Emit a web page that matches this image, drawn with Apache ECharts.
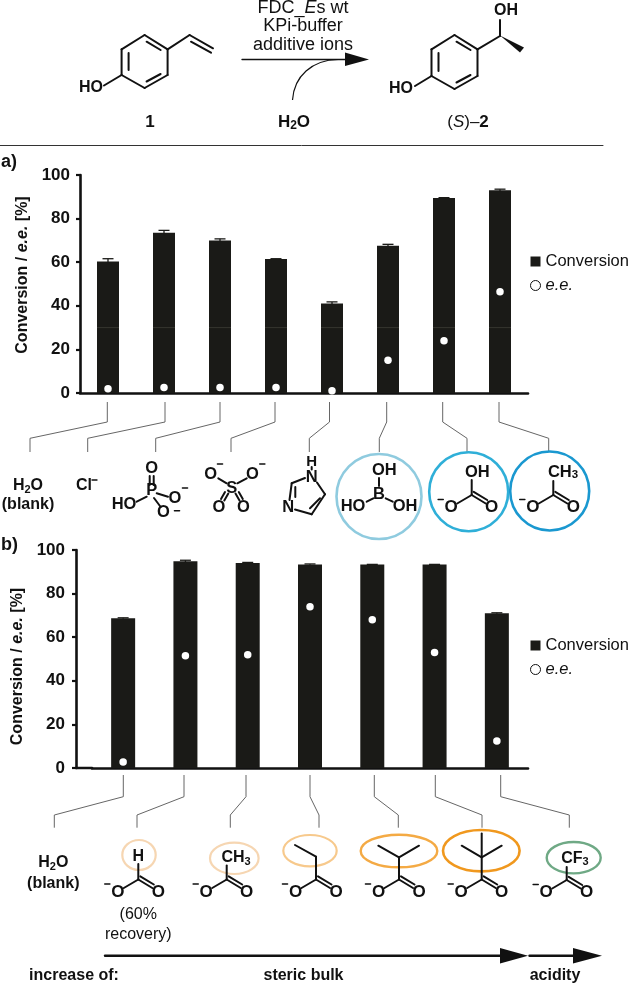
<!DOCTYPE html>
<html>
<head>
<meta charset="utf-8">
<style>html,body{margin:0;padding:0;background:#fff}#c{width:630px;height:985px}</style>
<script src="https://cdn.jsdelivr.net/npm/echarts@6/dist/echarts.min.js"></script>
</head>
<body>
<div id="c"></div>
<script>
// ---------- data ----------
const categoriesA = ['H2O (blank)', 'Cl-', 'H2PO4-', 'SO4 2-', 'imidazole', 'B(OH)3', 'HCO3-', 'CH3COO-'];
const conversionA = [60.3, 73.5, 70, 61.5, 41, 67.5, 89.5, 93];
const errorA = [1.3, 1.1, 0.7, 0.1, 0.8, 0.7, 0.1, 0.5];
const eeA = [2, 2.5, 2.5, 2.5, 1, 15, 24, 46.5];
const seamA = [30, 30, 30, 30, 30, 30, 30, 30];

const categoriesB = ['H2O (blank)', 'HCOO-', 'CH3COO-', 'CH3CH2COO-', 'iPrCOO-', 'tBuCOO-', 'CF3COO-'];
const conversionB = [68.7, 94.8, 94, 93.4, 93.4, 93.4, 71];
const errorB = [0.2, 0.5, 0.3, 0.2, 0, 0, 0.2];
const eeB = [2.8, 51.5, 52, 74, 68, 53, 12.4];

const yTicks = [0, 20, 40, 60, 80, 100];

// ---------- styles ----------
const FF = '"Liberation Sans", Arial, sans-serif';
const BLACK = '#111';
const BAR = '#1a1a17';
const LEAD = '#666';
const CHEM = 16.5;

const g = [];
function ln(x1, y1, x2, y2, w, c) {
  g.push({type:'line', silent:true, z:5, shape:{x1,y1,x2,y2}, style:{stroke:c||BLACK, lineWidth:w||2, lineCap:'round'}});
}
function poly(pts, c) {
  g.push({type:'polygon', silent:true, z:5, shape:{points:pts}, style:{fill:c||BLACK}});
}
function tx(s, x, y, size, weight, opt) {
  opt = opt || {};
  g.push({type:'text', silent:true, z:6, style:Object.assign({
    text:s, x, y, align:opt.align||'center', verticalAlign:'middle',
    font:(opt.italic?'italic ':'')+(weight||'bold')+' '+(size||16)+'px '+FF, fill:opt.fill||BLACK
  }, opt.rich?{rich:opt.rich}:{})});
}
function rich(size, weight) {
  const b = {fontFamily:FF, fontSize:size, fontWeight:weight||'bold', fill:BLACK, lineHeight:size+2, verticalAlign:'middle'};
  return {
    a:Object.assign({}, b),
    i:Object.assign({}, b, {fontStyle:'italic'}),
    n:Object.assign({}, b, {fontWeight:'normal'}),
    ni:Object.assign({}, b, {fontWeight:'normal', fontStyle:'italic'}),
    s:Object.assign({}, b, {fontSize:size-5, verticalAlign:'bottom', lineHeight:size+2})
  };
}
function rt(s, x, y, size, weight) {
  tx(s, x, y, size, weight, {rich:rich(size||16, weight)});
}
function ell(cx, cy, rx, ry, c, w) {
  g.push({type:'ellipse', silent:true, z:4, shape:{cx,cy,rx,ry}, style:{fill:'none', stroke:c, lineWidth:w||2}});
}
function leader(x0, x1, y0, y1, y2, y3) {
  g.push({type:'polyline', silent:true, z:3, shape:{points:[[x0,y0],[x0,y1],[x1,y2],[x1,y3]]},
    style:{stroke:LEAD, lineWidth:1, fill:'none'}});
}
function minus(x, y) { ln(x-2.6, y, x+2.6, y, 1.4); }
function carboxylate(vx, vy) {
  ln(vx, vy, vx-14.5, vy+8.5);
  ln(vx, vy, vx+14, vy+8.5);
  ln(vx+2, vy-3.2, vx+15.5, vy+5);
  tx('O', vx-20.5, vy+12.7, 17);
  tx('O', vx+20, vy+12.7, 17);
  minus(vx-31, vy+4.5);
}

// ---------- reaction scheme ----------
function ring(ox, oy, h) { // para-substituted benzene
  const p = [[ox,oy],[ox+23,oy+14.3],[ox+23,oy+40+h],[ox,oy+53+h],[ox-23,oy+40+h],[ox-23,oy+14.3]];
  for (let i=0;i<6;i++) ln(p[i][0],p[i][1],p[(i+1)%6][0],p[(i+1)%6][1]);
  ln(ox-16,oy+18,ox-16,oy+35+h);
  ln(ox+2,oy+6.7,ox+16,oy+15);
  ln(ox+2,oy+46.5+h,ox+16,oy+39+h);
}
ring(144.6, 35, 0);
ln(167.6,49.3,189.6,35); ln(189.6,35,213,48.3); ln(191,41.7,211,52.7);
ln(121.6,75,104,85.5);
tx('HO', 91, 88, 16);
tx('1', 150, 122, 17);

ring(454.5, 35, 1);
ln(477.5,49.3,500,36); ln(500,36,500,20);
poly([[500,35.5],[524,47.5],[520,52.5]]);
tx('OH', 506, 11, 16);
ln(431.5,76,415,86);
tx('HO', 401, 89, 16);
rt('{n|(}{ni|S}{n|)–}{a|2}', 468, 122, 17);

ln(242,59.5,346,59.5,1.4);
poly([[345,52.5],[369,59.5],[345,66]]);
g.push({type:'bezierCurve', silent:true, z:5, shape:{x1:292.5,y1:100,cpx1:294,cpy1:76,cpx2:312,cpy2:60,x2:338,y2:59.5},
  style:{stroke:BLACK, lineWidth:1.2, fill:'none'}});
rt('{a|FDC_}{i|E}{a|s wt}', 303, 8, 18, 'normal');
tx('KPi-buffer', 303, 26.5, 18, 'normal');
tx('additive ions', 303, 45, 18, 'normal');
rt('{a|H}{s|2}{a|O}', 294, 122, 17);
ln(0,145.5,603,145.5,1,'#333');

tx('a)', 9, 162, 18, 'bold');
tx('b)', 9.5, 545, 18, 'bold');

// ---------- leaders ----------
[[107.3,30],[165,87.7],[220,155.7],[275,231],[329.5,309.3],[386.7,379.3],[442.7,467],[499,548.7]]
  .forEach(p => leader(p[0], p[1], 402, 422, 438.3, 452));
[[123.3,54.3],[184,137],[246,230.3],[310,319],[374.3,398.3],[435.3,482],[500.7,569.3]]
  .forEach(p => leader(p[0], p[1], 775, 796.7, 815, 827.7));

// ---------- panel a structures ----------
rt('{a|H}{s|2}{a|O}', 28, 486, 16);
tx('(blank)', 28, 505, 16);
tx('Cl', 84, 486, 16); ln(92,480,97,480,1.3);

// phosphate
tx('O', 151.7, 468, CHEM); ln(149.7,476,149.7,485); ln(153.7,476,153.7,485);
tx('P', 151.7, 490, CHEM);
tx('HO', 124, 504, CHEM); ln(136.7,501.7,146.7,496.7);
ln(156.7,493.3,168,496.7); tx('O', 175, 498, CHEM); minus(185,488);
ln(154,498,160.7,507); tx('O', 163.3, 512, CHEM); minus(177,510.7);

// sulfate
tx('S', 231.7, 488, CHEM);
tx('O', 210.7, 474, CHEM); minus(220,464); ln(218.3,478.3,226.7,483.3);
tx('O', 252.3, 474, CHEM); minus(262.3,464); ln(246.7,478.3,237.3,483.3);
tx('O', 219, 507, CHEM); ln(228.3,493.5,224.3,500.5); ln(225,492,221,499);
tx('O', 243.3, 507, CHEM); ln(235.5,493.5,239.5,500.5); ln(238.8,492,242.8,499);

// imidazole
tx('H', 311.7, 461.7, 15); ln(311.7,467,311.7,469.5);
tx('N', 311.7, 477, CHEM);
ln(291.7,483.3,305,478); ln(317,482.5,325,494.3); ln(325,494.3,311.7,514.3);
ln(320,498.3,310,508.3); ln(311.7,514.3,295,509.5);
ln(291.7,483.3,289.5,500); ln(295.3,487,295.3,497);
tx('N', 288.3, 507.7, CHEM);

// boric acid
ell(379, 496.5, 42.5, 42.5, '#8fcbdf', 2.6);
tx('OH', 384.3, 470.5, CHEM); ln(379,478,379,486);
tx('B', 379, 494.5, CHEM);
tx('HO', 353, 506, CHEM); ln(366.7,501.7,373.3,498.3);
tx('OH', 405, 506, CHEM); ln(385.7,498.3,392.7,501.7);

// hydrogen carbonate
ell(468.7, 491.7, 39.5, 39.5, '#2fafd8', 2.6);
tx('OH', 477.3, 472.3, CHEM); ln(471.7,480,471.7,495);
carboxylate(471.7, 495);

// acetate
ell(549.7, 491, 39.5, 39.5, '#1a98d0', 2.6);
rt('{a|CH}{s|3}', 563, 472, CHEM); ln(553.3,481,553.3,495);
carboxylate(553.3, 495);

// ---------- panel b structures ----------
rt('{a|H}{s|2}{a|O}', 53.3, 863, 16);
tx('(blank)', 53.3, 884, 16);

ell(139, 855, 16.7, 15, '#f6d6b2', 2.2);
tx('H', 138.3, 857, 16); ln(138.3,864,138.3,879.5);
carboxylate(138.3, 879.5);
tx('(60%', 138.3, 915, 16, 'normal');
tx('recovery)', 138.3, 935, 16, 'normal');

ell(234.3, 858.3, 24.3, 15.7, '#f6d6b2', 2.2);
rt('{a|CH}{s|3}', 236, 858, 16); ln(226.7,865.5,226.7,879.5);
carboxylate(226.7, 879.5);

ell(310, 850.7, 26.7, 15.7, '#f7c98c', 2.2);
ln(295,845,316,856.7); ln(316,856.7,316,879.5);
carboxylate(316, 879.5);

ell(399, 851, 38.3, 16.3, '#f4aa44', 2.4);
ln(378.3,845.7,399,857.3); ln(419,845.7,399,857.3); ln(399,857.3,399,879.5);
carboxylate(399, 879.5);

ell(481.3, 850.7, 38.3, 20.7, '#f0981e', 2.6);
ln(461.7,845.7,481.7,857.3); ln(501.7,845.7,481.7,857.3); ln(481.7,833.5,481.7,879.5);
carboxylate(481.7, 879.5);

ell(573.7, 857.7, 27, 15.7, '#6fa985', 2.4);
rt('{a|CF}{s|3}', 575, 858.5, 16); ln(566.7,867,566.7,880);
carboxylate(566.7, 880);

// ---------- trend arrows ----------
ln(105,955.7,501,955.7,2.4);
poly([[500,948],[528,955.7],[500,963.5]]);
ln(529.5,955.7,574,955.7,2.4);
poly([[573,948],[602,955.7],[573,963.5]]);
tx('increase of:', 74, 976, 16);
tx('steric bulk', 303.5, 976, 16);
tx('acidity', 555, 976, 16);

// x-axis line of panel b runs left up to its y axis, beyond the first band
ln(76,768,92,768,2.6,BLACK);

// ---------- chart ----------
const nameRich = {
  b:{fontFamily:FF, fontSize:16, fontWeight:'bold', color:BLACK},
  i:{fontFamily:FF, fontSize:16, fontWeight:'bold', fontStyle:'italic', color:BLACK}
};
function yAxis(grid, offset, gap, pad, margin) {
  return {
    type:'value', gridIndex:grid, min:yTicks[0], max:yTicks[yTicks.length-1], interval:yTicks[1]-yTicks[0],
    offset, splitLine:{show:false},
    axisLine:{show:true, lineStyle:{color:BLACK, width:2.6}},
    axisTick:{show:true, length:4, lineStyle:{color:BLACK, width:2.2}},
    axisLabel:{fontFamily:FF, fontSize:17, fontWeight:'bold', color:BLACK, margin},
    name:'{b|Conversion / }{i|e.e.}{b| [%]}', nameLocation:'middle', nameRotate:90, nameGap:gap,
    nameTextStyle:{rich:nameRich, padding:pad}
  };
}
function xAxis(grid, cats) {
  return {
    type:'category', gridIndex:grid, data:cats,
    axisLine:{show:true, lineStyle:{color:BLACK, width:2.6}},
    axisTick:{show:false}, axisLabel:{show:false}, splitLine:{show:false}
  };
}
function errorSeries(ax, means, errs) {
  return {
    type:'custom', xAxisIndex:ax, yAxisIndex:ax, z:3, silent:true,
    data:means.map((m,i)=>[i,m,errs[i]]), encode:{x:0,y:1},
    renderItem(params, api){
      const i=api.value(0), m=api.value(1), e=api.value(2);
      const top=api.coord([i,m+e]), bot=api.coord([i,m-e]);
      const hw=5.5;
      const st={stroke:BAR, lineWidth:1.3};
      return {type:'group', children:[
        {type:'line', shape:{x1:top[0],y1:top[1],x2:bot[0],y2:bot[1]}, style:st},
        {type:'line', shape:{x1:top[0]-hw,y1:top[1],x2:top[0]+hw,y2:top[1]}, style:st}
      ]};
    }
  };
}
function seamSeries(ax, vals, w) {
  return {
    type:'custom', xAxisIndex:ax, yAxisIndex:ax, z:3, silent:true,
    data:vals.map((v,i)=>[i,v]), encode:{x:0,y:1},
    renderItem(params, api){
      const p=api.coord([api.value(0),api.value(1)]);
      return {type:'line', shape:{x1:p[0]-w/2,y1:p[1],x2:p[0]+w/2,y2:p[1]}, style:{stroke:'#35352f', lineWidth:1}};
    }
  };
}
function barSeries(ax, vals, w) {
  return {name:'Conversion', type:'bar', xAxisIndex:ax, yAxisIndex:ax, data:vals, barWidth:w, z:2,
    itemStyle:{color:BAR}};
}
function dotSeries(ax, vals) {
  return {name:'e.e.', type:'scatter', xAxisIndex:ax, yAxisIndex:ax, data:vals, symbol:'circle', symbolSize:7.5, z:4,
    itemStyle:{color:'#fff', opacity:1}};
}
function legend(top) {
  return {
    orient:'vertical', left:525, top, itemWidth:10, itemHeight:10, itemGap:7, selectedMode:false,
    data:[
      {name:'Conversion', icon:'rect', itemStyle:{color:BAR}},
      {name:'e.e.', icon:'circle', itemStyle:{color:'#fff', borderColor:BLACK, borderWidth:1}}
    ],
    formatter:n=>n==='e.e.'?'{i|e.e.}':'{r|'+n+'}',
    textStyle:{rich:{
      r:{fontFamily:FF, fontSize:16.5, color:BLACK},
      i:{fontFamily:FF, fontSize:16.5, fontStyle:'italic', color:BLACK}
    }}
  };
}

const chart = echarts.init(document.getElementById('c'), null, {renderer:'canvas', width:630, height:985});
chart.setOption({
  animation:false,
  backgroundColor:'#fff',
  textStyle:{fontFamily:FF},
  tooltip:{show:false},
  grid:[
    {left:80, top:175, width:448, height:218},
    {left:92, top:550, width:436, height:218}
  ],
  xAxis:[xAxis(0,categoriesA), xAxis(1,categoriesB)],
  yAxis:[yAxis(0,0,46,[0,0,0,18],10), yAxis(1,16,43,[0,15,0,0],11)],
  legend:[legend(248), legend(632)],
  series:[
    barSeries(0,conversionA,22), seamSeries(0,seamA,22), errorSeries(0,conversionA,errorA), dotSeries(0,eeA),
    barSeries(1,conversionB,24), errorSeries(1,conversionB,errorB), dotSeries(1,eeB)
  ],
  graphic:{elements:g}
});
</script>
</body>
</html>
